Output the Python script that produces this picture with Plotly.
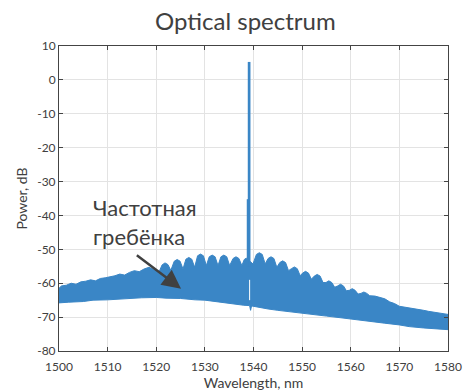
import plotly.graph_objects as go

# Upper edge of the comb band (wavelength nm, power dB)
upper_wl = [1500.0, 1500.5, 1501.5, 1502.5, 1503.5, 1504.5, 1505.5, 1506.5, 1507.5, 1508.5,
            1509.5, 1510.5, 1511.5, 1512.5, 1513.5, 1514.5, 1515.5, 1516.5, 1517.5, 1518.5,
            1519.5,
            1520.6, 1521.2, 1521.8, 1522.4, 1523.0, 1523.7, 1524.3, 1524.9, 1525.5, 1526.1,
            1526.7, 1527.3, 1527.9, 1528.5, 1529.1, 1529.7, 1530.3, 1530.9, 1531.5, 1532.1,
            1532.7, 1533.3, 1533.9, 1534.5, 1535.1, 1535.8, 1536.4, 1537.0, 1537.6, 1538.1,
            1538.5, 1539.0, 1539.9, 1540.6, 1541.2, 1541.8, 1542.4, 1543.0, 1543.6, 1544.2,
            1544.8, 1545.4, 1546.0, 1546.6, 1547.2, 1547.8, 1548.4, 1549.0, 1549.6, 1550.1,
            1550.7, 1551.3, 1551.9, 1552.5, 1553.1, 1553.7, 1554.3, 1554.9, 1555.5, 1556.1,
            1556.7, 1557.3, 1557.9, 1558.5, 1559.1, 1559.7, 1560.3, 1560.9, 1561.5, 1562.1,
            1562.7, 1563.3, 1563.9,
            1565.0, 1566.0, 1567.0, 1568.0, 1569.0, 1570.0, 1571.0, 1572.0, 1573.0, 1574.0,
            1575.0, 1576.0, 1577.0, 1578.0, 1579.0, 1580.0]
upper_db = [-61.5, -60.8, -60.6, -60.0, -60.3, -59.6, -59.4, -59.0, -59.3, -58.6,
            -58.4, -58.2, -57.8, -57.3, -57.6, -56.8, -56.3, -56.6, -55.8, -55.3,
            -55.9,
            -56.6, -54.6, -54.0, -54.5, -56.2, -53.5, -53.0, -53.5, -55.8, -52.9,
            -52.4, -52.9, -55.3, -51.9, -51.4, -51.9, -54.8, -52.2, -51.7, -52.2,
            -54.8, -52.2, -51.7, -52.2, -54.8, -52.7, -52.2, -52.7, -54.8, -53.0,
            -52.6, -53.2, -54.3, -51.5, -51.0, -51.5, -54.3, -52.7, -52.2, -52.7,
            -55.3, -53.9, -53.4, -53.9, -56.3, -55.7, -55.2, -55.7, -57.8, -57.0,
            -56.5, -57.0, -58.8, -57.9, -57.4, -57.9, -59.8, -59.8, -59.3, -59.8,
            -61.2, -60.8, -60.3, -60.8, -62.2, -62.1, -61.6, -62.1, -63.2, -63.0,
            -62.6, -63.0, -63.7,
            -63.8, -64.3, -64.6, -65.5, -66.0, -66.8, -67.0, -67.3, -67.5, -67.8,
            -68.0, -68.3, -68.5, -68.7, -69.0, -69.2]

# Lower edge of the comb band
lower_wl = [1500, 1502, 1505, 1507, 1510, 1512, 1515, 1517, 1520, 1522, 1525, 1528, 1530,
            1533, 1535, 1538, 1539.2, 1539.4, 1539.6, 1540, 1543, 1545, 1548, 1550, 1553,
            1555, 1558, 1560, 1563, 1565, 1567, 1570, 1572, 1575, 1577, 1580]
lower_db = [-65.8, -65.6, -65.4, -65.0, -64.9, -64.7, -64.5, -64.3, -64.2, -64.4, -64.5,
            -64.9, -65.0, -65.6, -66.0, -66.5, -66.6, -68.0, -66.7, -66.7, -67.6, -68.0,
            -68.6, -68.9, -69.4, -69.7, -70.2, -70.6, -71.0, -71.4, -71.8, -72.3, -72.8,
            -73.2, -73.5, -73.7]

# Pump lines rising out of the comb
pump_wl = [1539.1, 1538.8]
pump_top = [5.3, -35.2]
pump_base = [-55.0, -55.0]
pump_width = [2.7, 1.8]

# Thin gap in the band under the pump
gap_wl = [1539.2, 1539.2]
gap_db = [-59.0, -65.0]

# Axis ticks
x_ticks = [1500, 1510, 1520, 1530, 1540, 1550, 1560, 1570, 1580]
x_labels = ["1500", "1510", "1520", "1530", "1540", "1550", "1560", "1570", "1580"]
y_ticks = [10, 0, -10, -20, -30, -40, -50, -60, -70, -80]
y_labels = ["10", "0", "-10", "-20", "-30", "-40", "-50", "-60", "-70", "-80"]

blue = "#3a86c6"
txt = "#404040"
font = "Lato"

fig = go.Figure()

fig.add_trace(go.Scatter(
    x=upper_wl + lower_wl[::-1], y=upper_db + lower_db[::-1],
    mode="lines", fill="toself", fillcolor=blue,
    line=dict(color=blue, width=1), hoverinfo="skip", showlegend=False))

for wl, top, base, w in zip(pump_wl, pump_top, pump_base, pump_width):
    fig.add_trace(go.Scatter(x=[wl, wl], y=[base, top], mode="lines",
                             line=dict(color=blue, width=w), showlegend=False))

fig.add_trace(go.Scatter(x=gap_wl, y=gap_db, mode="lines",
                         line=dict(color="white", width=1), showlegend=False))

axis_common = dict(
    showgrid=True, gridcolor="#e3e3e3", gridwidth=1,
    showline=True, linecolor="#444444", linewidth=1, mirror="ticks",
    ticks="inside", ticklen=4, tickcolor="#444444",
    tickfont=dict(family=font, size=12, color=txt),
    zeroline=False, automargin=False, tickmode="array",
)

fig.update_layout(
    width=463, height=392,
    margin=dict(l=59, r=15, t=46, b=41),
    paper_bgcolor="white", plot_bgcolor="white",
    title=dict(text="Optical spectrum", x=0.53, xanchor="center", y=0.945, yanchor="middle",
               font=dict(family=font, size=24, color=txt)),
    xaxis=dict(range=[1500, 1580], tickvals=x_ticks, ticktext=x_labels, ticklabelstandoff=5,
               title=dict(text="Wavelength, nm", font=dict(family=font, size=14, color=txt), standoff=4),
               **axis_common),
    yaxis=dict(range=[-80, 10], tickvals=y_ticks, ticktext=y_labels,
               title=dict(text="Power, dB", font=dict(family=font, size=14, color=txt), standoff=6),
               **axis_common),
    annotations=[
        dict(x=1525.1, y=-61.6, ax=1515.7, ay=-51.4, xref="x", yref="y", axref="x", ayref="y",
             text="", showarrow=True, arrowhead=2, arrowsize=1.5, arrowwidth=2.5,
             arrowcolor=txt, standoff=0),
        dict(x=1506.5, y=-42.0, xref="x", yref="y", xanchor="left", yanchor="middle",
             text="Частотная<br>гребёнка", align="left", showarrow=False,
             font=dict(family=font, size=22, color=txt)),
    ],
)

fig.write_html("out.html")
